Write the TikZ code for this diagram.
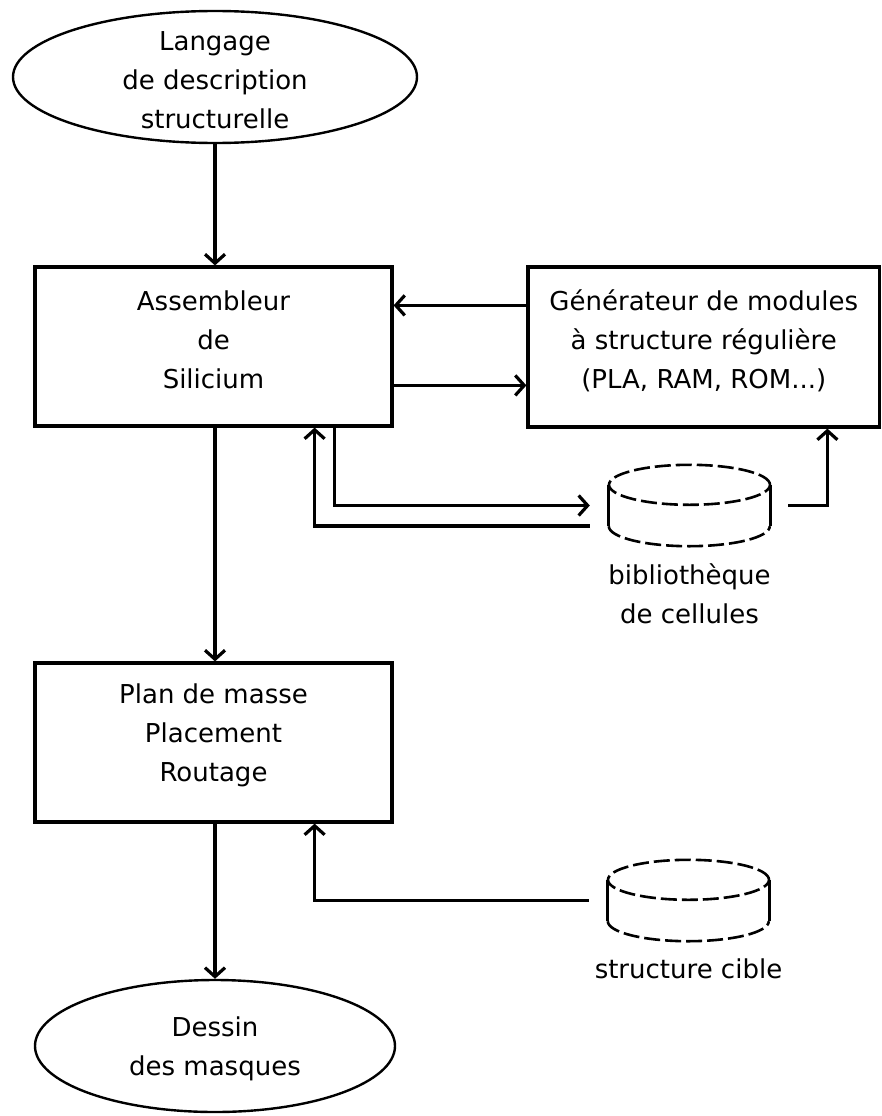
\documentclass[tikz,border=0pt]{standalone}
\usepackage{fontspec}
\setmainfont{DejaVu Sans}
\usetikzlibrary{arrows.meta,shapes.geometric,calc}

% vertical drum: solid sides, dashed rims
\newcommand\drumoutline[1]{%
  \draw[wire] ([yshift=-20pt]#1.north west) -- ([yshift=20pt]#1.south west);
  \draw[wire] ([yshift=-20pt]#1.north east) -- ([yshift=20pt]#1.south east);
  \draw[rim] ([yshift=-20pt]#1.north) ellipse [x radius=80.5pt, y radius=20pt];
  \draw[rim] ([yshift=20pt]#1.south west) arc [start angle=180, end angle=360, x radius=80.5pt, y radius=20pt];
}

\begin{document}
\begin{tikzpicture}[x=1pt,y=-1pt,
  every node/.style={font=\fontsize{26}{39}\selectfont, align=center},
  box/.style={draw, line width=3.2pt, rectangle, inner sep=0pt},
  oval/.style={draw, line width=2.4pt, ellipse, inner sep=0pt},
  drum/.style={inner sep=0pt, minimum width=161pt, minimum height=81pt},
  wire/.style={line width=3.2pt},
  arr/.style={wire, -{Straight Barb[length=9pt,width=20pt]}},
  rim/.style={line width=2.6pt, dash pattern=on 16pt off 5pt},
]
\useasboundingbox (0,0) rectangle (881,1116);

% main flow
\node[oval, minimum width=404pt, minimum height=132pt] (lang) at (215,77) {};
\node (langtxt) at ([yshift=-3pt]lang.center) {Langage\\de description\\structurelle};
\node[box, minimum width=357pt, minimum height=159pt] (asm) at (213.5,346.5) {};
\node (asmtxt) at ([yshift=7pt]asm.center) {Assembleur\\de\\Silicium};
\node[box, minimum width=351.5pt, minimum height=160pt] (gen) at (703.75,347) {};
\node (gentxt) at ([yshift=6pt]gen.center) {Générateur de modules\\à structure régulière\\(PLA, RAM, ROM...)};
\node[box, minimum width=357pt, minimum height=159pt] (plan) at (213.5,742.5) {};
\node (plantxt) at ([yshift=7pt]plan.center) {Plan de masse\\Placement\\Routage};
\node[oval, minimum width=360pt, minimum height=132pt] (mask) at (215,1046) {};
\node (masktxt) at ([yshift=-3pt]mask.center) {Dessin\\des masques};

% libraries
\node[drum] (lib) at (689.5,505.5) {};
\drumoutline{lib}
\node[anchor=north] (libtxt) at ([yshift=-14pt]lib.south) {bibliothèque\\de cellules};
\node[drum] (tgt) at (688.5,900.5) {};
\drumoutline{tgt}
\node[anchor=north] (tgttxt) at ([yshift=-14pt]tgt.south) {structure cible};

% connectors
\draw[arr] (lang.south) -- (lang.south |- asm.north);
\draw[arr] (lang.south |- asm.south) -- (lang.south |- plan.north);
\draw[arr] (lang.south |- plan.south) -- (mask.north);

\draw[arr] ([yshift=-40pt]gen.north west) -- ([yshift=-40pt]gen.north west -| asm.east);
\draw[arr] ([yshift=-120pt]asm.north east) -- ([yshift=-120pt]asm.north east -| gen.west);

\draw[arr] ([xshift=-59pt]asm.south east) |- ([xshift=-19pt]lib.west);
\draw[arr] ([xshift=-19pt,yshift=-20.5pt]lib.west) -| ([xshift=-79pt]asm.south east);
\draw[arr] ([xshift=18pt]lib.east) -| ([xshift=301pt]gen.south west);

\draw[arr] ([xshift=-19pt]tgt.west) -| ([xshift=-79pt]plan.south east);
\end{tikzpicture}
\end{document}
